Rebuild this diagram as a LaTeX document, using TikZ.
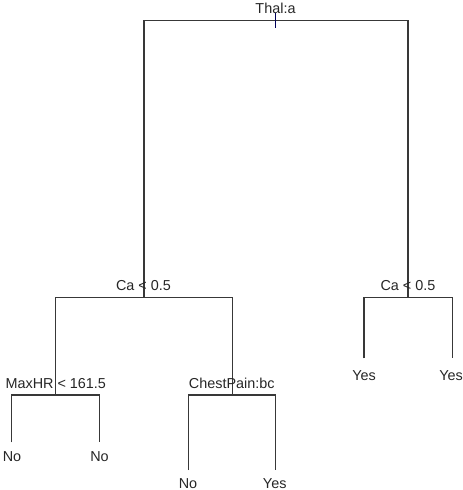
\documentclass[tikz,border=0pt]{standalone}
\usepackage{fontspec}
\setmainfont{Liberation Sans}
\begin{document}
\begin{tikzpicture}[x=1pt,y=-1pt,
  branch/.style={draw=black!78,line width=1.5pt},
  lab/.style={anchor=base,inner sep=0pt,font=\fontsize{14.4}{17}\selectfont,text=black!85}]
\useasboundingbox (0,0) rectangle (463,490);
% split points
\coordinate (root) at (275.5,20.5);
\coordinate (roottop) at (275.5,13);
\coordinate (rootbot) at (275.5,28);
\coordinate (caL) at (144,297.7);
\coordinate (caR) at (408,297.7);
\coordinate (maxhr) at (55.7,395);
\coordinate (chest) at (232.3,395);
% leaf ends
\coordinate (l1) at (11.7,442.3);
\coordinate (l2) at (99.7,442.3);
\coordinate (l3) at (188.3,470);
\coordinate (l4) at (275.7,470);
\coordinate (l5) at (364,358.3);
\coordinate (l6) at (452.3,358.3);
% branches
\draw[branch] (caL) |- (root) -| (caR);
\draw[branch] (maxhr) |- (caL) -| (chest);
\draw[branch] (l5) |- (caR) -| (l6);
\draw[branch] (l1) |- (maxhr) -| (l2);
\draw[branch] (l3) |- (chest) -| (l4);
% labels
\node[lab] (tThal) at (275.5,13.3) {Thal:a};
\draw[draw=blue!35!black,line width=1pt] (roottop) -- (rootbot);
\node[lab] (tCaL) at (143.5,290.7) {Ca < 0.5};
\node[lab] (tCaR) at (408,290.7) {Ca < 0.5};
\node[lab] (tMax) at (55.8,388.3) {MaxHR < 161.5};
\node[lab] (tChest) at (231.8,388.3) {ChestPain:bc};
\node[lab] (n1) at (12,461) {No};
\node[lab] (n2) at (99.5,461) {No};
\node[lab] (n3) at (188,488.3) {No};
\node[lab] (n4) at (274.7,488.3) {Yes};
\node[lab] (n5) at (364,380) {Yes};
\node[lab] (n6) at (451,380) {Yes};
\end{tikzpicture}
\end{document}
